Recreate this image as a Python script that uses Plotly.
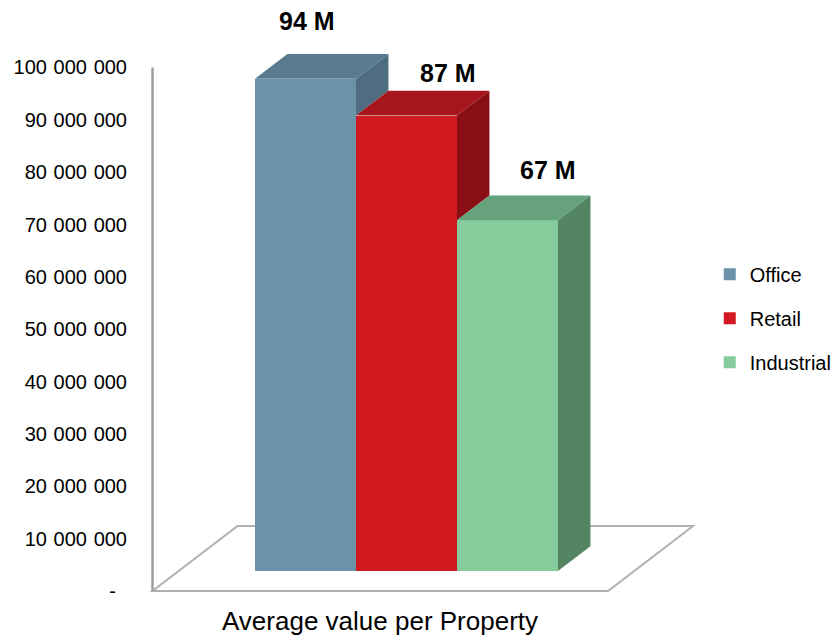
import plotly.graph_objects as go

# ---- data -------------------------------------------------------------
categories = ["Office", "Retail", "Industrial"]
values = [94_000_000, 87_000_000, 67_000_000]
value_labels = ["94 M", "87 M", "67 M"]
tick_values = list(range(0, 100_000_001, 10_000_000))
group_label = "Average value per Property"

# ---- styling ----------------------------------------------------------
front_colors = ["#6A93AA", "#D01A20", "#85CB9C"]
top_colors = ["#587B90", "#A5151B", "#66A27C"]
side_colors = ["#4E6D81", "#890F14", "#548563"]
FONT = "Liberation Sans, Arial, sans-serif"

# oblique projection of the depth axis (d = 0 front of floor, 1 = back)
DX = 0.8416          # horizontal shift per unit depth, in category units
DY = 12.42e6         # vertical shift per unit depth, in value units
D_FRONT, D_BACK = 0.308, 0.69   # depth span of the bars
FLOOR_X = (-1.255, 3.255)       # floor extent along the category axis


def proj(x, y, d):
    return x + DX * d, y + DY * d


def tick_text(v):
    # accounting style: zero shown as a dash, space as thousands separator
    if v == 0:
        return "-\u2007"
    return f"{v:,}".replace(",", "\u2004")


fig = go.Figure()

# front faces of the boxes
for i, (name, v) in enumerate(zip(categories, values)):
    fx, fy = proj(i, 0, D_FRONT)
    fig.add_trace(go.Bar(
        x=[fx], y=[v], base=[fy], width=1.0, name=name,
        marker=dict(color=front_colors[i], line=dict(width=0)),
        legendgroup=name, hoverinfo="skip",
    ))

# top and visible right-hand side faces
for i, v in enumerate(values):
    x0, x1 = i - 0.5, i + 0.5
    top = [proj(x0, v, D_FRONT), proj(x1, v, D_FRONT),
           proj(x1, v, D_BACK), proj(x0, v, D_BACK), proj(x0, v, D_FRONT)]
    fig.add_trace(go.Scatter(
        x=[p[0] for p in top], y=[p[1] for p in top], mode="lines",
        fill="toself", fillcolor=top_colors[i], line=dict(width=0),
        showlegend=False, hoverinfo="skip",
    ))
    # the neighbour on the right hides the lower part of this side
    lo = min(values[i + 1], v) if i + 1 < len(values) else 0
    if lo < v:
        side = [proj(x1, lo, D_FRONT), proj(x1, v, D_FRONT),
                proj(x1, v, D_BACK), proj(x1, lo, D_BACK), proj(x1, lo, D_FRONT)]
        fig.add_trace(go.Scatter(
            x=[p[0] for p in side], y=[p[1] for p in side], mode="lines",
            fill="toself", fillcolor=side_colors[i], line=dict(width=0),
            showlegend=False, hoverinfo="skip",
        ))

# floor outline and vertical axis line
fl, fr = FLOOR_X
corners = [proj(fl, 0, 0), proj(fr, 0, 0), proj(fr, 0, 1), proj(fl, 0, 1)]
path = "M " + " L ".join(f"{x},{y}" for x, y in corners) + " Z"
fig.add_shape(type="path", path=path, xref="x", yref="y", layer="below",
              line=dict(color="#B0B0B0", width=2))
fig.add_shape(type="line", x0=fl, x1=fl, y0=0, y1=tick_values[-1],
              xref="x", yref="y", layer="below",
              line=dict(color="#A0A0A0", width=2.5))

# value labels above the boxes
label_shift = [(-31, -33), (9, -18), (8, -25)]
for i, (v, txt) in enumerate(zip(values, value_labels)):
    ax, ay = proj(i, v, D_BACK)
    fig.add_annotation(
        x=ax, y=ay, xref="x", yref="y", text=f"<b>{txt}</b>",
        showarrow=False, xanchor="center", yanchor="middle",
        xshift=label_shift[i][0], yshift=-label_shift[i][1],
        font=dict(family=FONT, size=25, color="#000000"),
    )

# category label under the floor
fig.add_annotation(
    x=1, y=-0.036, xref="x", yref="paper", text=group_label,
    showarrow=False, xanchor="center", yanchor="middle",
    font=dict(family=FONT, size=26, color="#000000"),
)

fig.update_layout(
    width=835, height=639,
    margin=dict(l=140, r=0, t=10, b=39, autoexpand=False),
    paper_bgcolor="white", plot_bgcolor="white",
    barmode="overlay", bargap=0,
    font=dict(family=FONT, size=20, color="#000000"),
    showlegend=True,
    legend=dict(
        xref="container", yref="container",
        x=0.850, xanchor="left", y=0.502, yanchor="middle",
        font=dict(family=FONT, size=20, color="#000000"),
        tracegroupgap=15, itemwidth=30, traceorder="grouped",
        bgcolor="rgba(0,0,0,0)",
    ),
    xaxis=dict(range=[-1.379, 5.502], visible=False, fixedrange=True),
    yaxis=dict(
        range=[-1.719e6, 110.98e6],
        tickvals=tick_values, ticktext=[tick_text(v) for v in tick_values],
        showgrid=False, zeroline=False, showline=False, ticks="",
        ticklabelstandoff=12, fixedrange=True, automargin=False,
        tickfont=dict(family=FONT, size=20, color="#000000"),
    ),
)

fig.write_html("out.html")
